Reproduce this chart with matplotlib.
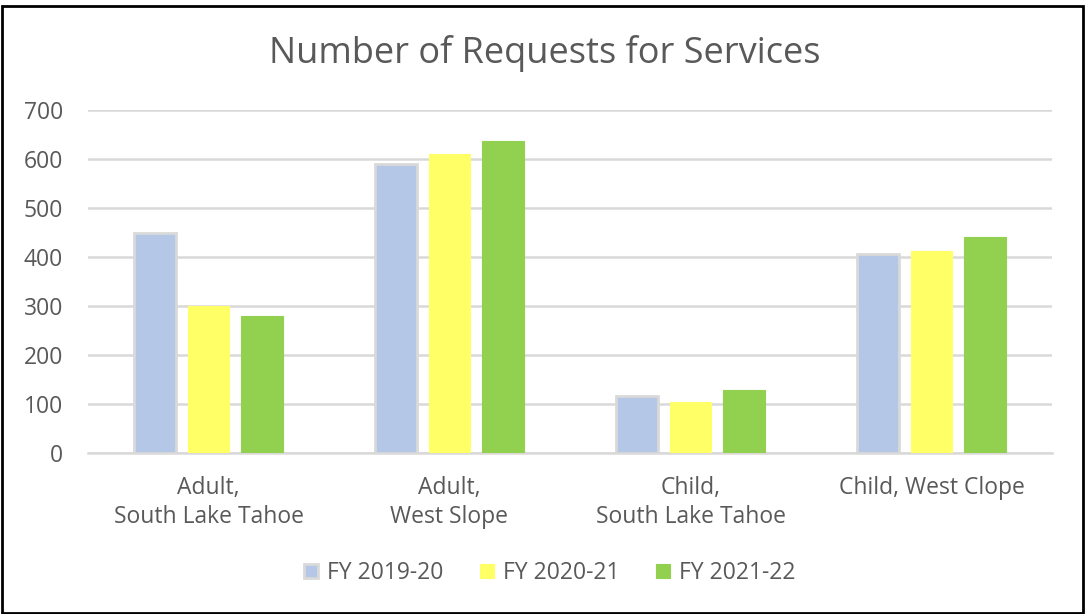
import matplotlib
matplotlib.use("Agg")
import matplotlib.pyplot as plt
import numpy as np
from matplotlib.patches import Rectangle

categories = ["Adult,\nSouth Lake Tahoe", "Adult,\nWest Slope", "Child,\nSouth Lake Tahoe", "Child, West Clope"]
series_names = ["FY 2019-20", "FY 2020-21", "FY 2021-22"]
fy2019 = [450, 590, 116, 406]
fy2020 = [301, 610, 104, 412]
fy2021 = [279, 637, 128, 440]
yticks = [0, 100, 200, 300, 400, 500, 600, 700]

colors = ["#B4C7E7", "#FFFF66", "#92D050"]
edges = ["#D9D9D9", "#FFFF66", "#92D050"]
font = ["Open Sans", "DejaVu Sans"]
plt.rcParams['font.family'] = font

fig = plt.figure(figsize=(10.85, 6.14), dpi=100)
ax = fig.add_axes([88/1085, 1-453/614, (1052-88)/1085, (453-110)/614])

x = np.arange(len(categories))
width = 0.174
step = 0.222
for i, (vals, c, e, n) in enumerate(zip([fy2019, fy2020, fy2021], colors, edges, series_names)):
    ax.bar(x + (i-1)*step, vals, width, color=c, edgecolor=e, linewidth=2 if i == 0 else 0.8, label=n, zorder=3)

ax.set_xlim(-0.5, len(categories)-0.5)
ax.set_ylim(0, 700)
ax.set_yticks(yticks)
ax.set_yticklabels([str(t) for t in yticks], fontsize=16.5, color="#595959")
ax.set_xticks(x)
ax.set_xticklabels(categories, fontsize=16.5, color="#595959", linespacing=1.3)
ax.tick_params(axis='y', length=0, pad=18)
ax.tick_params(axis='x', length=0, pad=16.5)
ax.grid(axis='y', color="#D9D9D9", linewidth=1.8, zorder=0)
for s in ["top", "right", "left"]:
    ax.spines[s].set_visible(False)
ax.spines["bottom"].set_color("#D9D9D9")
ax.spines["bottom"].set_linewidth(1.8)

fig.text(545/1085, 1-54/614, "Number of Requests for Services", ha="center", va="center",
         fontsize=26, color="#595959")

leg = fig.legend(loc="center", bbox_to_anchor=(550/1085, 1-573/614), ncol=3, frameon=False,
                 fontsize=16.5, handlelength=0.6, handleheight=0.6, columnspacing=1.6, handletextpad=0.4)
for t in leg.get_texts():
    t.set_color("#595959")

fig.patches.append(Rectangle((0.002, 0.002), 0.996, 0.988, transform=fig.transFigure,
                             fill=False, edgecolor="black", linewidth=2))

fig.savefig("out.png", dpi=100)
